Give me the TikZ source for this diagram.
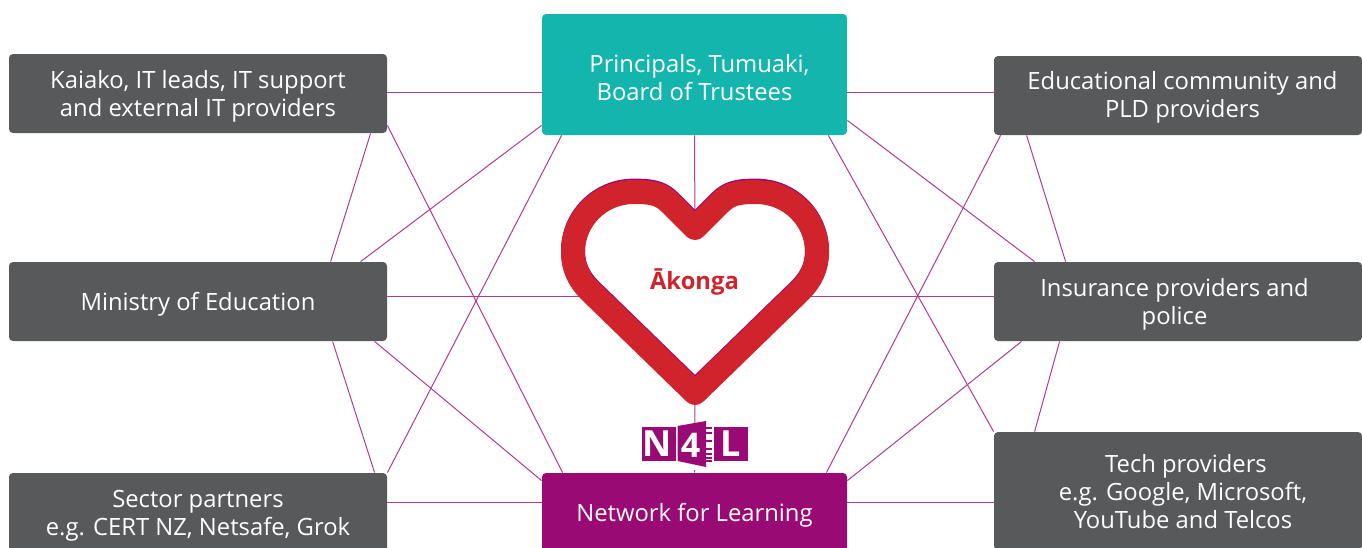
\documentclass[tikz,border=0pt]{standalone}
\usepackage{fontspec}
\setmainfont{Open Sans}
\usetikzlibrary{backgrounds}
\definecolor{boxgrey}{HTML}{58595B}
\definecolor{teal1}{HTML}{14B5AD}
\definecolor{n4l}{HTML}{990A74}
\definecolor{heartred}{HTML}{D0232B}
\definecolor{linkc}{HTML}{AD3B97}
\newcommand\boxtext[2][1.6pt]{\raisebox{-#1}[\height][\depth]{\begin{tabular}{@{}c@{}}#2\end{tabular}}}
\tikzset{
  x=0.5pt,y=-0.5pt,
  box/.style={rectangle,rounded corners=2pt,fill=boxgrey,text=white,align=center,inner sep=0pt,
    minimum width=189pt,font=\fontsize{11.9}{13.8}\selectfont},
  hub/.style={box,minimum width=152.5pt},
  link/.style={draw=linkc,line width=0.5pt},
  logopart/.style={fill=n4l,draw=none},
  logotext/.style={text=white,inner sep=0pt,font=\fontsize{18}{18}\bfseries\selectfont},
  heartline/.style={line width=12pt,line join=round},
}
\begin{document}
\begin{tikzpicture}
\useasboundingbox (0,0) rectangle (1362,547);
\clip (0,0) rectangle (1362,547);
% boxes
\node[box,minimum height=39.5pt] (A) at (198,93.5) {\boxtext{Kaiako, IT leads, IT support\\and external IT providers}};
\node[box,minimum height=39.5pt] (B) at (198,301.5) {\boxtext{Ministry of Education}};
\node[box,minimum height=40pt] (C) at (198,513) {\boxtext{Sector partners\\e.g. CERT NZ, Netsafe, Grok}};
\node[box,minimum height=39.5pt,minimum width=184pt] (D) at (1178,95.5) {\hspace*{4.5pt}\boxtext[1.1pt]{Educational community and\\PLD providers}};
\node[box,minimum height=39.5pt,minimum width=184pt] (E) at (1178,301.5) {\boxtext{Insurance providers and\\police}\hspace*{3.5pt}};
\node[box,minimum height=59pt,minimum width=184pt] (F) at (1178,491) {\hspace*{5pt}\boxtext[2pt]{\hspace*{3pt}Tech providers\\e.g. Google, Microsoft,\\YouTube and Telcos}};
\node[hub,fill=teal1,minimum height=60.5pt] (T) at (694.5,74.5) {\boxtext[3.1pt]{\hspace*{5pt}Principals, Tumuaki,\\Board of Trustees}};
\node[hub,fill=n4l,minimum height=40pt] (N) at (694.5,513) {\boxtext{Network for Learning}};
% heart anchor points
\coordinate (hTop) at (695,228);
\coordinate (hBot) at (695,393);
\coordinate (hLeft) at (590,296);
\coordinate (hRight) at (800,296);
\begin{scope}[on background layer]
  % horizontals
  \draw[link] ([yshift=0.75pt]A.east) -- ([yshift=-8.75pt]T.west);
  \draw[link] ([yshift=-8.75pt]T.east) -- ([yshift=1.75pt]D.west);
  \draw[link] ([yshift=5.5pt]C.east) -- ([yshift=5.5pt]N.west);
  \draw[link] ([yshift=5.5pt]N.east) -- ([yshift=-5.5pt]F.west);
  \draw[link] ([yshift=2.75pt]B.east) -- (hLeft);
  \draw[link] (hRight) -- ([yshift=2.75pt]E.west);
  \draw[link] (T.south) -- (hTop);
  \draw[link] (hBot) -- (N.north);
  % left diagonals
  \draw[link] ([xshift=181pt]A.south west) -- ([xshift=161pt]B.north west);
  \draw[link] ([yshift=4pt]A.south east) -- ([xshift=10.5pt]N.north west);
  \draw[link] ([xshift=176pt]B.north west) -- ([yshift=5pt]T.south west);
  \draw[link] ([xshift=10pt]T.south west) -- (C.north east);
  \draw[link] ([xshift=183pt]B.south west) -- ([yshift=-4pt]N.north west);
  \draw[link] ([xshift=162pt]B.south west) -- ([xshift=183pt]C.north west);
  % right diagonals
  \draw[link] ([yshift=7.5pt]T.south east) -- ([xshift=20.5pt]E.north west);
  \draw[link] ([xshift=-9.5pt]T.south east) -- (F.north west);
  \draw[link] ([xshift=-10.5pt]N.north east) -- ([xshift=3.5pt]D.south west);
  \draw[link] ([yshift=-4pt]N.north east) -- ([xshift=14pt]E.south west);
  \draw[link] ([xshift=16.5pt]D.south west) -- ([xshift=36pt]E.north west);
  \draw[link] ([xshift=33pt]E.south west) -- ([xshift=20.5pt]F.north west);
\end{scope}
% heart
\def\heartpath{(695,228) -- (670,203) .. controls (660,193) and (650,192) .. (634,192)
  .. controls (600,192) and (573,219) .. (573,252)
  .. controls (573,268) and (579,280) .. (590,291)
  -- (695,393) -- (800,291)
  .. controls (811,280) and (817,268) .. (817,252)
  .. controls (817,219) and (790,192) .. (756,192)
  .. controls (740,192) and (730,193) .. (720,203) -- cycle}
\fill[white] \heartpath;
\draw[heartline,draw=n4l,yshift=0.7pt] \heartpath;
\draw[heartline,draw=heartred] \heartpath;
\node[inner sep=0pt,text=heartred,font=\fontsize{11.9}{14}\bfseries\selectfont] (K) at (694.5,281.5) {Ākonga};
% logo
\fill[white] (640,423) rectangle (750,470);
\node[logopart,minimum width=17pt,minimum height=17pt,inner sep=0pt] (LN) at (659,444) {};
\node[logopart,minimum width=17pt,minimum height=17pt,inner sep=0pt] (LL) at (731,444) {};
\fill[n4l] (677.5,426) -- (706,421) -- (706,467) -- (677.5,461) -- cycle;
\foreach \yy in {427,432,440,448,453,457,460}{
  \fill[n4l] (706,\yy) rectangle (712,\yy+1.5);}
\node[logotext] (L1) at (657.5,444) {N};
\node[logotext,font=\fontsize{17}{17}\bfseries\selectfont] (L2) at (690.5,445) {4};
\node[logotext] (L3) at (730.5,444) {L};
\end{tikzpicture}
\end{document}
